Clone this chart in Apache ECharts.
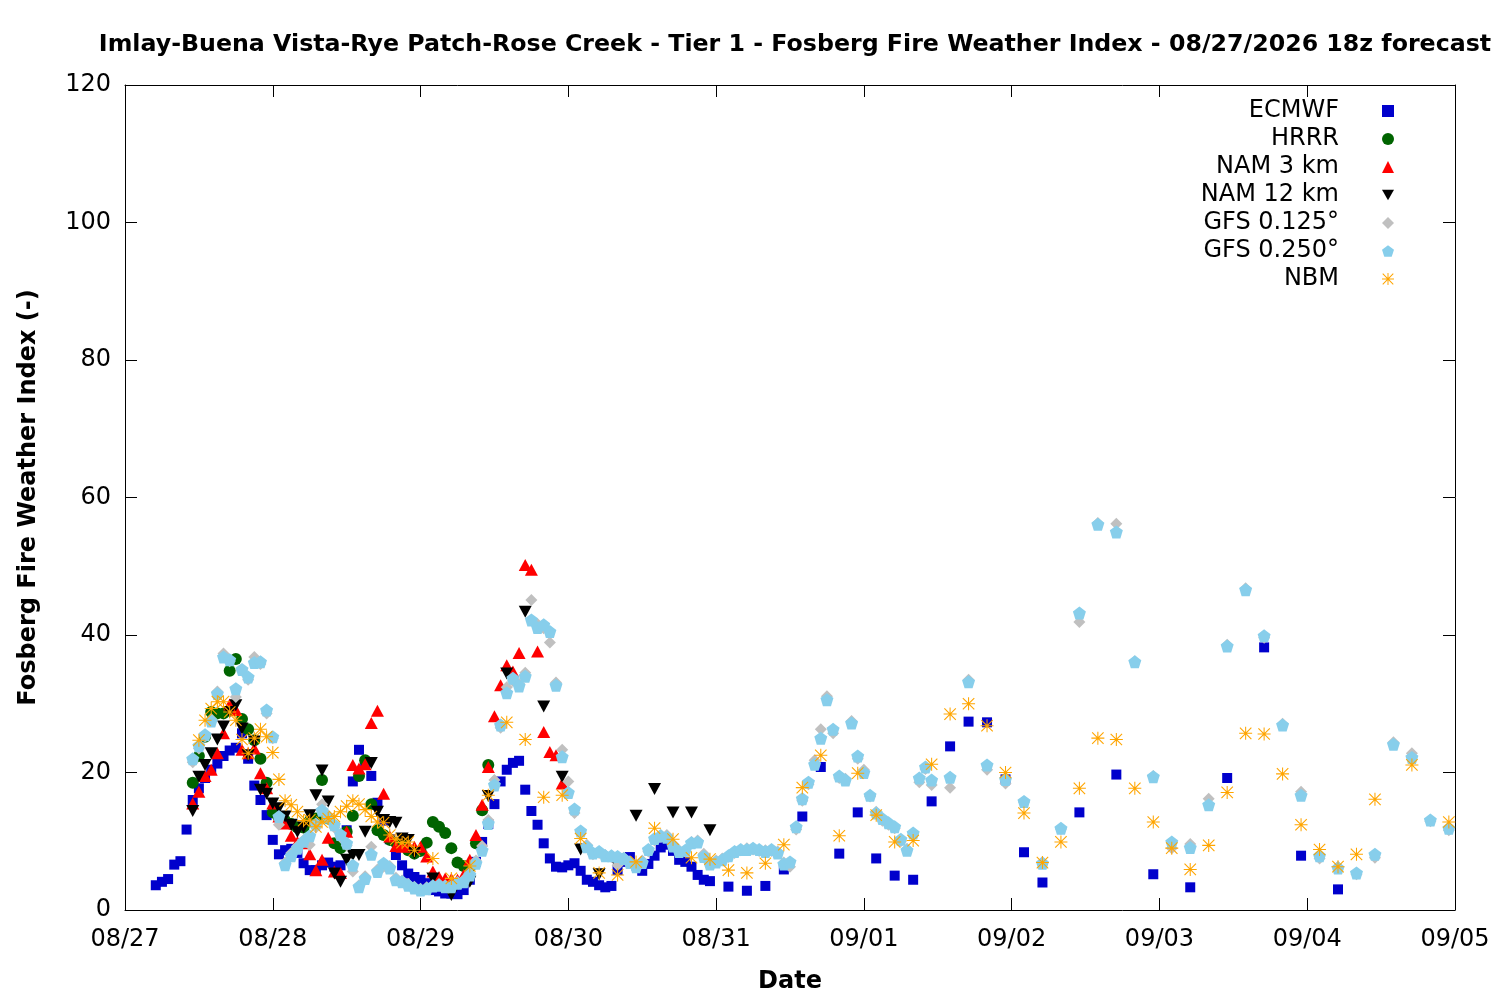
<!DOCTYPE html>
<html>
<head>
<meta charset="utf-8">
<title>Fosberg Fire Weather Index</title>
<script src="https://cdn.jsdelivr.net/npm/echarts@6/dist/echarts.min.js"></script>
<style>
  html, body { margin: 0; padding: 0; background: #fff; }
  #chart { width: 1500px; height: 1000px; }
</style>
</head>
<body>
<div id="chart"></div>
<script>
/*---------- 数据 (hours after 08/27 00, value) ----------*/
var dateLabels = ['08/27', '08/28', '08/29', '08/30', '08/31', '09/01', '09/02', '09/03', '09/04', '09/05'];

// ECMWF: hourly from h5, 3-hourly from h98, 6-hourly from h155
var ecmwfHourly = [3.6, 4.1, 4.5, 6.6, 7.1, 11.7, 16.0, 17.7, 19.2, 20.4,
	21.3, 22.4, 23.2, 23.6, 25.7, 22.0, 18.1, 16.0, 13.8, 10.2,
	8.1, 8.7, 8.9, 8.3, 6.8, 5.8, 5.8, 6.5, 6.9, 6.3,
	6.5, 11.6, 18.7, 23.3, 21.5, 19.5, 15.6, 13.0, 10.3, 8.0,
	6.5, 5.3, 4.8, 4.4, 3.9, 2.9, 2.7, 2.4, 2.4, 2.3,
	2.9, 4.4, 7.0, 9.9, 12.5, 15.4, 18.7, 20.4, 21.4, 21.7,
	17.5, 14.4, 12.4, 9.7, 7.5, 6.3, 6.2, 6.5, 6.8, 5.7,
	4.4, 4.1, 3.6, 3.3, 3.5, 5.8, 7.0, 7.7, 6.5, 5.7,
	6.7, 7.9, 9.1, 9.5, 8.6, 7.3, 7.0, 6.3, 5.1, 4.4, 4.2];
var ecmwf3h = [3.4, 2.8, 3.5, 5.9, 13.6, 20.8, 8.2, 14.2, 7.5, 5.0, 4.4, 15.8, 23.8, 27.4, 27.3, 19.0, 8.4, 4.0];
var ecmwf6h = [14.2, 19.7, 5.2, 3.3, 19.2, 38.2, 7.9, 3.0];

// HRRR: hourly from h11
var hrrrHourly = [18.5, 22.4, 25.2, 28.8, 28.6, 28.6, 34.8, 36.5, 27.8, 26.3,
	24.7, 22.0, 18.5, 14.2, 13.5, 13.0, 12.5, 12.0, 12.0, 13.0,
	13.3, 18.9, 13.3, 9.7, 9.0, 11.4, 13.7, 19.5, 21.8, 15.4,
	11.6, 10.9, 10.2, 9.8, 9.7, 8.7, 8.2, 8.6, 9.8, 12.8,
	12.1, 11.2, 9.0, 6.9, 6.4, 6.2, 9.7, 14.5, 21.1];

// NAM 3 km: hourly from h11
var nam3Hourly = [15.5, 17.2, 19.5, 20.4, 22.8, 25.7, 29.9, 29.1, 23.3, 22.8,
	23.5, 19.9, 17.7, 15.5, 13.6, 12.6, 10.8, 9.9, 9.7, 8.1,
	5.8, 7.3, 10.5, 5.6, 5.4, 11.4, 21.1, 20.6, 21.2, 27.2,
	29.0, 16.9, 10.7, 9.3, 9.2, 9.5, 9.2, 9.2, 7.8, 5.6,
	4.8, 4.6, 4.5, 4.4, 5.1, 7.3, 10.9, 15.3, 20.8, 28.2,
	32.7, 35.6, 34.7, 37.4, 50.2, 49.5, 37.6, 25.9, 23.0, 22.5, 18.4];

// NAM 12 km: hourly from h11, 3-hourly from h50
var nam12Hourly = [14.4, 19.4, 21.1, 22.8, 24.8, 26.7, 28.8, 29.8, 26.4, 22.5,
	24.5, 17.5, 16.9, 15.5, 14.8, 13.6, 12.4, 11.4, 12.0, 13.8,
	16.7, 20.3, 15.8, 5.3, 4.1, 7.3, 8.0, 8.0, 11.4, 21.4,
	14.3, 13.1, 12.8, 12.7, 10.4, 10.2, 8.3];
var nam12_3h = [4.6, 2.2, 4.1, 16.6, 34.4, 43.4, 29.6, 19.4, 8.8, 5.2, 6.4, 13.7, 17.6, 14.2, 14.2, 11.6];

// GFS 0.125: hourly from h11, 3-hourly from h134
var gfs125Hourly = [21.5, 23.5, 25.2, 27.8, 31.8, 37.3, 36.2, 31.0, 34.8, 33.5,
	36.8, 35.8, 28.6, 25.0, 12.4, 6.9, 8.3, 9.3, 10.2, 9.5,
	12.0, 15.4, 13.8, 12.0, 10.6, 9.4, 5.6, 3.6, 4.9, 9.2,
	5.9, 6.3, 6.4, 4.7, 4.3, 3.8, 3.4, 3.1, 3.3, 3.6,
	3.8, 3.6, 3.5, 4.1, 4.4, 5.4, 7.2, 9.3, 13.1, 18.9,
	26.5, 32.4, 33.3, 32.9, 34.5, 45.1, 41.6, 41.0, 38.9, 33.1,
	23.3, 18.7, 14.1, 11.2, 9.5, 8.1, 8.3, 8.0, 7.7, 6.5,
	7.6, 7.1, 6.6, 7.2, 8.5, 10.1, 10.9, 10.9, 9.6, 8.7,
	8.5, 9.9, 10.1, 8.2, 7.0, 7.2, 7.5, 7.7, 8.3, 8.7,
	9.0, 8.8, 8.6, 8.7, 8.6, 8.5, 6.9, 6.3, 11.7, 15.9,
	18.3, 21.8, 26.3, 31.1, 25.7, 19.2, 19.1, 27.5, 22.0, 20.4,
	16.5, 14.3, 13.0, 12.4, 11.9, 10.0, 8.9, 10.9, 18.6, 20.5, 18.2];
var gfs125_3h = [17.8, 33.5, 20.4, 18.4, 15.7, 7.0, 11.8, 41.9, 56.3, 56.2, 36.2, 19.5, 9.0, 9.6,
	16.2, 38.6, 46.8, 39.6, 27.1, 17.2, 7.5, 6.3, 5.2, 7.6, 24.4, 22.8, 12.9, 11.6];

// GFS 0.250: hourly from h11, 3-hourly from h134
var gfs250Hourly = [22.0, 23.9, 25.5, 27.5, 31.5, 36.8, 36.4, 32.2, 35.0, 33.9,
	36.0, 36.1, 29.1, 25.2, 13.6, 6.6, 7.9, 9.0, 10.0, 10.8,
	12.5, 14.5, 13.5, 12.4, 11.0, 9.7, 6.5, 3.4, 4.6, 8.1,
	5.6, 6.8, 6.1, 4.4, 4.1, 3.6, 3.2, 2.9, 3.1, 3.5,
	3.6, 3.4, 3.4, 3.9, 4.1, 5.1, 6.8, 8.7, 12.6, 18.2,
	26.9, 31.6, 33.7, 32.6, 34.0, 42.2, 41.1, 41.5, 40.5, 32.7,
	22.3, 17.1, 14.7, 11.5, 9.2, 8.3, 8.5, 7.9, 7.9, 7.8,
	7.5, 6.9, 6.3, 6.9, 8.8, 10.4, 10.8, 10.6, 9.3, 8.5,
	8.7, 9.8, 9.9, 7.8, 6.7, 7.0, 7.3, 7.9, 8.5, 8.8,
	8.8, 9.0, 8.8, 8.5, 8.8, 8.3, 6.7, 7.0, 12.1, 16.2,
	18.6, 21.2, 25.0, 30.6, 26.3, 19.5, 18.9, 27.2, 22.4, 20.0,
	16.7, 14.1, 13.3, 12.7, 12.1, 10.3, 8.7, 11.2, 19.2, 20.8, 18.9];
var gfs250_3h = [19.3, 33.2, 21.1, 19.0, 15.8, 6.8, 11.9, 43.2, 56.1, 55.0, 36.1, 19.4, 9.9, 9.1,
	15.3, 38.4, 46.6, 39.9, 26.9, 16.7, 7.9, 6.1, 5.4, 8.1, 24.1, 22.2, 13.1, 11.9];

// NBM: hourly from h12, 3-hourly from h50 (null = no point)
var nbmHourly = [24.7, 27.6, 29.3, 30.3, 30.3, 28.8, 27.6, 24.8, 22.8, 25.0,
	26.3, 25.2, 22.9, 19.0, 15.9, 15.3, 14.3, 13.0, 13.1, 12.1,
	12.8, 13.3, 13.6, 14.3, 15.1, 15.9, 15.4, 14.6, 13.6, 12.8,
	12.7, 10.9, 10.3, 9.8, 9.9, 8.7];
var nbm3h = [7.5, 4.6, 6.4, 16.7, 27.3, 24.8, 16.4, 16.7, 10.4, 5.4,
	5.1, 7.0, 11.9, 10.3, 7.6, 7.4, 5.8, 5.4, 6.8, 9.5,
	17.8, 22.5, 10.8, 19.9, 13.8, 9.9, 10.1, 21.2, 28.5, 30.0,
	26.8, 20.0, 14.1, 6.9, 9.9, 17.7, 25.0, 24.8, 17.7, 12.8,
	9.0, 5.9, 9.4, 17.1, 25.7, 25.6, 19.8, 12.4, 8.8, 6.3,
	8.1, 16.1, null, 21.1, null, 12.8];
/*----------------------------------*/

// 把一段数据变成 [hour, value]
function seg(start, step, arr) {
	var out = [];
	for (var i = 0; i < arr.length; i++) {
		if (arr[i] !== null) {
			out.push([start + i * step, arr[i]]);
		}
	}
	return out;
}

var pentagon = 'path://M50,2 L97.6,36.5 L79.4,92.5 L20.6,92.5 L2.4,36.5 Z';
var downTri = 'path://M0,0 L100,0 L50,87 Z';
var star = 'path://M0,46 L100,46 L100,54 L0,54 Z M46,0 L54,0 L54,100 L46,100 Z ' +
	'M3,9 L9,3 L97,91 L91,97 Z M91,3 L97,9 L9,97 L3,91 Z';

var font = 'DejaVu Sans';
var tick = { show: true, inside: false, length: -12, lineStyle: { color: '#000', width: 1 } };
var line = { show: true, onZero: false, lineStyle: { color: '#000', width: 1 } };

var myChart = echarts.init(document.getElementById('chart'));
myChart.setOption({
	backgroundColor: '#ffffff',
	animation: false,
	textStyle: { fontFamily: font },
	title: {
		text: 'Imlay-Buena Vista-Rye Patch-Rose Creek - Tier 1 - Fosberg Fire Weather Index - 08/27/2026 18z forecast',
		left: 790,
		textAlign: 'center',
		top: 28,
		textStyle: { fontFamily: font, fontSize: 23.7, fontWeight: 'bold', color: '#000' }
	},
	legend: {
		orient: 'vertical',
		right: 101,
		top: 92,
		align: 'right',
		itemWidth: 12,
		itemHeight: 12,
		itemGap: 0,
		textStyle: {
			fontFamily: font,
			fontSize: 24,
			color: '#000',
			width: 180,
			align: 'right',
			lineHeight: 28,
			padding: [0, 38, 0, 0]
		},
		data: ['ECMWF', 'HRRR', 'NAM 3 km', 'NAM 12 km', 'GFS 0.125°', 'GFS 0.250°', 'NBM']
	},
	grid: { left: 125, right: 45, top: 85, bottom: 90, containLabel: false },
	xAxis: [{
		type: 'value',
		min: 0,
		max: 216,
		interval: 24,
		name: 'Date',
		nameLocation: 'middle',
		nameGap: 60,
		nameTextStyle: { fontFamily: font, fontSize: 24, fontWeight: 'bold', color: '#000' },
		axisLine: line,
		axisTick: tick,
		axisLabel: {
			fontFamily: font, fontSize: 24, color: '#000', margin: 18,
			formatter: function(v) { return dateLabels[Math.round(v / 24)]; }
		},
		splitLine: { show: false }
	}, {
		type: 'value',
		position: 'top',
		min: 0,
		max: 216,
		interval: 24,
		axisLine: line,
		axisTick: tick,
		axisLabel: { show: false },
		splitLine: { show: false }
	}],
	yAxis: [{
		type: 'value',
		min: 0,
		max: 120,
		interval: 20,
		name: 'Fosberg Fire Weather Index (-)',
		nameLocation: 'middle',
		nameGap: 84,
		nameTextStyle: { fontFamily: font, fontSize: 24, fontWeight: 'bold', color: '#000' },
		axisLine: line,
		axisTick: tick,
		axisLabel: { fontFamily: font, fontSize: 24, color: '#000', margin: 14 },
		splitLine: { show: false }
	}, {
		type: 'value',
		position: 'right',
		min: 0,
		max: 120,
		interval: 20,
		axisLine: line,
		axisTick: tick,
		axisLabel: { show: false },
		splitLine: { show: false }
	}],
	series: [
		{
			name: 'ECMWF', type: 'scatter', symbol: 'rect', symbolSize: 10,
			itemStyle: { color: '#0000cc', opacity: 1 },
			data: seg(5, 1, ecmwfHourly).concat(seg(98, 3, ecmwf3h), seg(155, 6, ecmwf6h))
		},
		{
			name: 'HRRR', type: 'scatter', symbol: 'circle', symbolSize: 12,
			itemStyle: { color: '#006400', opacity: 1 },
			data: seg(11, 1, hrrrHourly)
		},
		{
			name: 'NAM 3 km', type: 'scatter', symbol: 'triangle', symbolSize: [13, 12],
			itemStyle: { color: '#ff0000', opacity: 1 },
			data: seg(11, 1, nam3Hourly)
		},
		{
			name: 'NAM 12 km', type: 'scatter', symbol: downTri, symbolSize: [13, 12],
			itemStyle: { color: '#000000', opacity: 1 },
			data: seg(11, 1, nam12Hourly).concat(seg(50, 3, nam12_3h))
		},
		{
			name: 'GFS 0.125°', type: 'scatter', symbol: 'diamond', symbolSize: 12,
			itemStyle: { color: '#c0c0c0', opacity: 1 },
			data: seg(11, 1, gfs125Hourly).concat(seg(134, 3, gfs125_3h))
		},
		{
			name: 'GFS 0.250°', type: 'scatter', symbol: pentagon, symbolSize: 13,
			itemStyle: { color: '#87ceeb', opacity: 1 },
			data: seg(11, 1, gfs250Hourly).concat(seg(134, 3, gfs250_3h))
		},
		{
			name: 'NBM', type: 'scatter', symbol: star, symbolSize: 13,
			itemStyle: { color: '#ffa500', opacity: 1 },
			data: seg(12, 1, nbmHourly).concat(seg(50, 3, nbm3h))
		}
	]
});
</script>
</body>
</html>
